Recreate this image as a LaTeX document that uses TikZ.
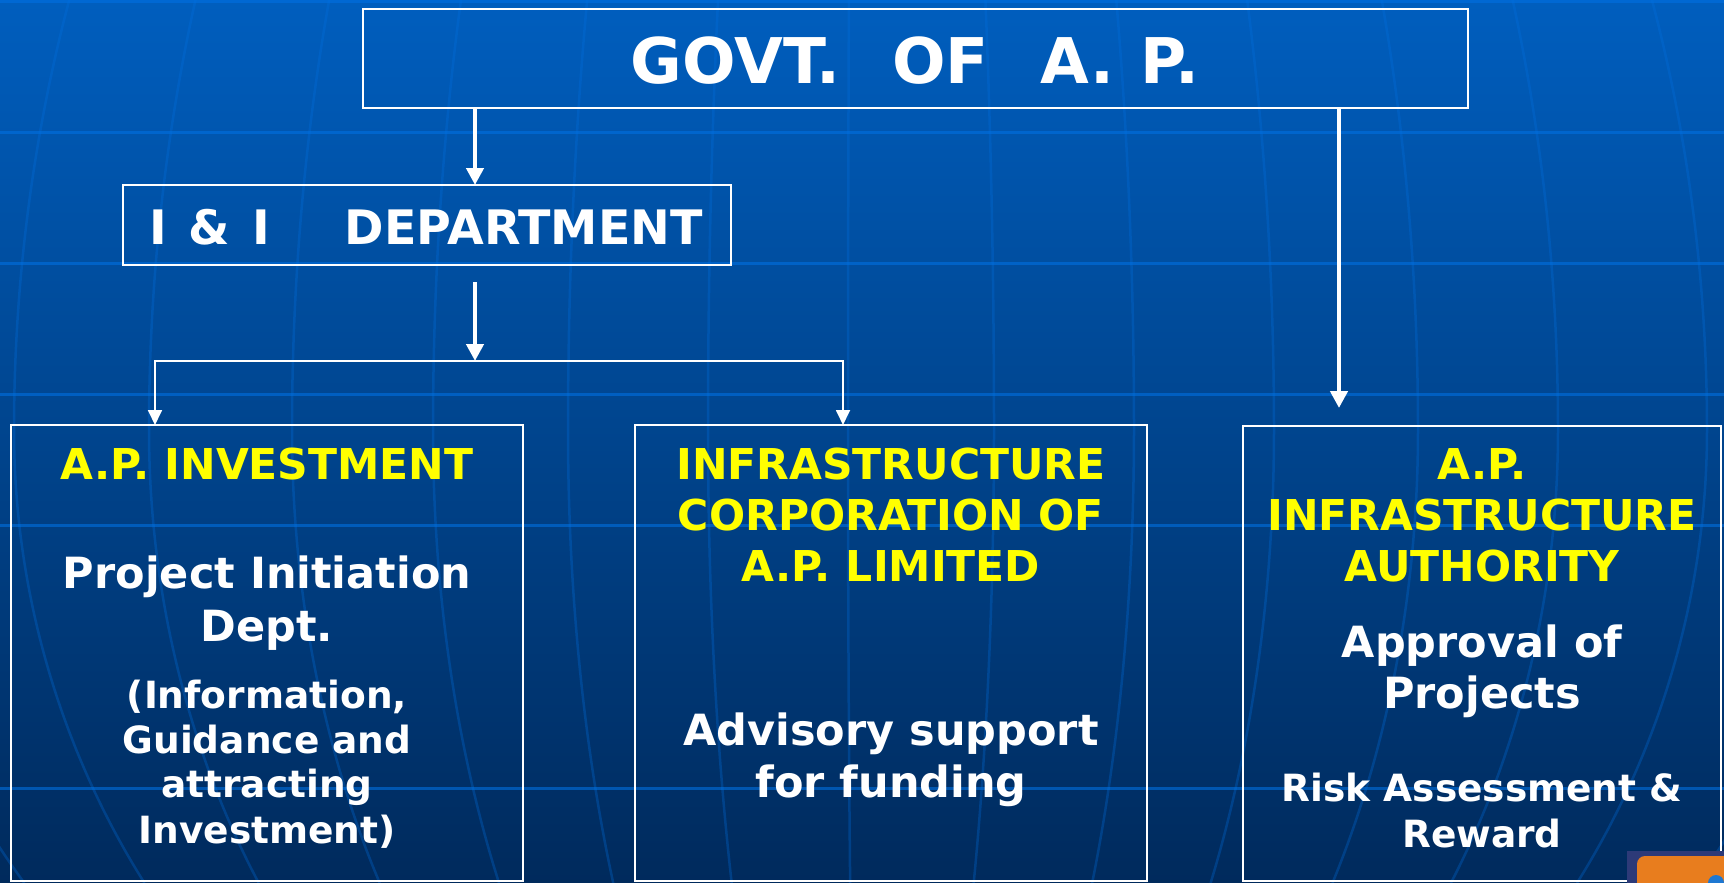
\documentclass[tikz,border=0pt]{standalone}
\usepackage{fontspec}
\setmainfont{DejaVu Sans}
\usetikzlibrary{arrows.meta,calc}
\definecolor{bgtop}{RGB}{0,94,190}
\definecolor{bgmid}{RGB}{0,72,148}
\definecolor{bgbot}{RGB}{0,42,92}
\definecolor{gridblue}{RGB}{0,112,225}
\definecolor{ylw}{RGB}{255,255,0}
\definecolor{btnorange}{RGB}{232,125,30}
\definecolor{btnback}{RGB}{45,58,120}
\definecolor{btnblue}{RGB}{30,120,210}
\begin{document}
\begin{tikzpicture}[x=1pt,y=-1pt,
  frame/.style={draw=white, line width=2.5pt, inner sep=0pt, outer sep=0pt, anchor=north west},
  orgbox/.style={draw=white, line width=1.5pt, inner sep=0pt, outer sep=0pt, anchor=north west},
  txt/.style={inner sep=0pt, anchor=base},
  headtxt/.style={txt, text=ylw, font=\bfseries\fontsize{42.5}{50}\selectfont},
  bodytxt/.style={txt, text=white, font=\bfseries\fontsize{43}{51}\selectfont},
  smalltxt/.style={txt, text=white, font=\bfseries\fontsize{37.5}{45}\selectfont},
  bigarr/.style={draw=white, line width=4.5pt, -{Triangle[width=17pt,length=17pt]}},
  smallarr/.style={draw=white, line width=1.8pt, -{Triangle[width=14pt,length=15pt]}},
  hline/.style={draw=gridblue, line width=3pt, opacity=0.6},
  mline/.style={draw=gridblue, line width=2.5pt, opacity=0.3}
]
\useasboundingbox (0,0) rectangle (1724,883);
\shade[top color=bgtop, middle color=bgmid, bottom color=bgbot] (0,0) rectangle (1724,883);
\begin{scope}
\clip (0,0) rectangle (1724,883);
\foreach \a in {-1130,-990,-848,-713,-570,-429,-294,-154,-14,132,272,412,556,696,845,985,1125} {
  \draw[mline] plot[variable=\t, domain=0:430, samples=25, smooth] ({862+\a*sqrt(1-((\t-430)/1211)^2)},\t)
     -- plot[variable=\t, domain=430:883, samples=25, smooth] ({862+\a*sqrt(1-((\t-430)/850)^2)},\t);
}
\foreach \yy in {2,132,263,394,525,788} \draw[hline] (0,\yy) -- (1724,\yy);
\end{scope}

% boxes
\node[frame, minimum width=1105pt, minimum height=99pt] (govt) at (363,9) {};
\node[frame, minimum width=608pt, minimum height=80pt] (ii) at (123,185) {};
\node[orgbox, minimum width=512pt, minimum height=456pt] (boxA) at (11,425) {};
\node[orgbox, minimum width=512pt, minimum height=456pt] (boxB) at (635,425) {};
\node[orgbox, minimum width=478pt, minimum height=455pt] (boxC) at (1243,426) {};

% texts
\node[txt, text=white, font=\bfseries\fontsize{63}{70}\selectfont] (govtT) at (915,84) {GOVT.\hspace{52pt}OF\hspace{52pt}A.\hspace{26pt}P.};
\node[txt, text=white, font=\bfseries\fontsize{47.5}{55}\selectfont] (iiT) at (426,244) {I\hspace{22pt}\&\hspace{22pt}I\hspace{75pt}DEPARTMENT};

\node[headtxt] (a1) at (267,479) {A.P. INVESTMENT};
\node[bodytxt] (a2) at (267,588) {Project Initiation};
\node[bodytxt] (a3) at (267,641) {Dept.};
\node[smalltxt] (a4) at (267,708) {(Information,};
\node[smalltxt] (a5) at (267,753) {Guidance and};
\node[smalltxt] (a6) at (267,797) {attracting};
\node[smalltxt] (a7) at (267,843) {Investment)};

\node[headtxt] (b1) at (891,479) {INFRASTRUCTURE};
\node[headtxt] (b2) at (891,530) {CORPORATION OF};
\node[headtxt] (b3) at (891,581) {A.P. LIMITED};
\node[bodytxt] (b4) at (891,745) {Advisory support};
\node[bodytxt] (b5) at (891,797) {for funding};

\node[headtxt] (c1t) at (1482,479) {A.P.};
\node[headtxt] (c2t) at (1482,530) {INFRASTRUCTURE};
\node[headtxt] (c3t) at (1482,581) {AUTHORITY};
\node[bodytxt] (c4t) at (1482,657) {Approval of};
\node[bodytxt] (c5t) at (1482,708) {Projects};
\node[smalltxt] (c6t) at (1482,801) {Risk Assessment \&};
\node[smalltxt] (c7t) at (1482,847) {Reward};

% connectors
\coordinate (c1) at (475,0);
\coordinate (c3) at (1339,0);
\coordinate (ca) at (155,0);
\coordinate (cb) at (843,0);
\coordinate (br) at (475,361);
\draw[bigarr] (govt.south -| c1) -- (ii.north -| c1);
\draw[bigarr] ($(ii.south -| c1)+(0,17)$) -- (br);
\draw[smallarr] (br) -| (boxA.north -| ca);
\draw[smallarr] (br) -| (boxB.north -| cb);
\draw[bigarr] (govt.south -| c3) -- ($(boxC.north -| c3)+(0,-18)$);

% corner button
\fill[btnback] (1627,851) rectangle (1724,883);
\begin{scope}
\clip (1627,851) rectangle (1724,883);
\fill[btnorange, rounded corners=8pt] (1637,856) rectangle (1745,905);
\fill[btnblue] (1716,883) circle (8);
\end{scope}
\end{tikzpicture}
\end{document}
